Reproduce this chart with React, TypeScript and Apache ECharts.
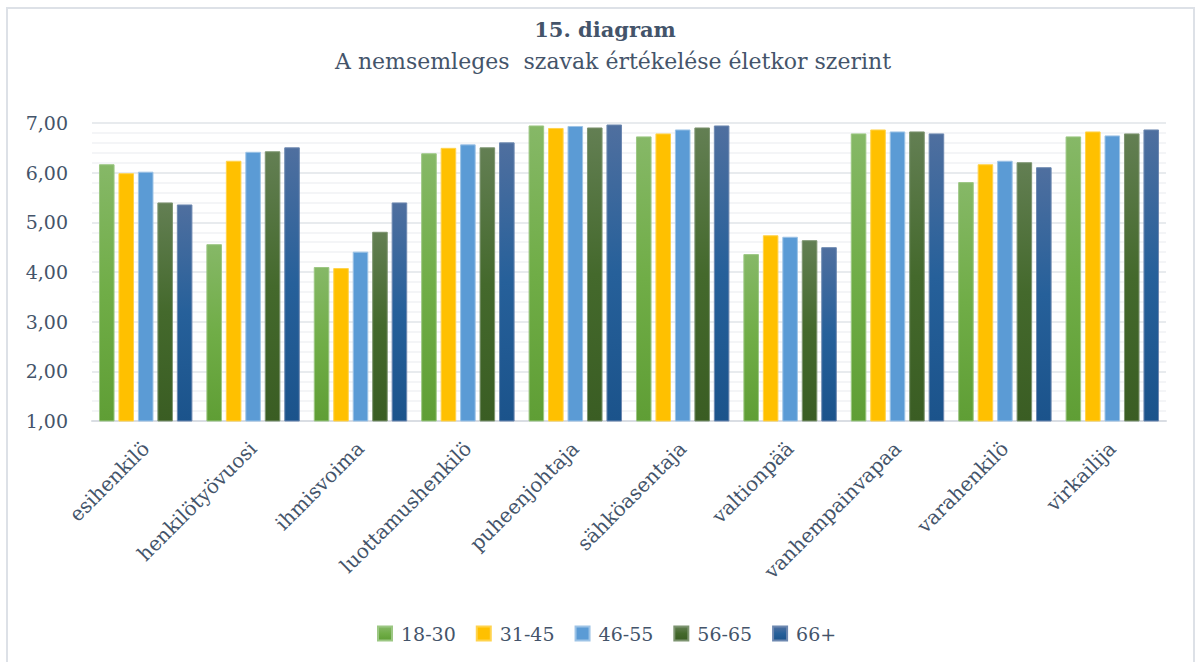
import React, { useEffect, useRef } from "react";
import * as echarts from "echarts";

const categories = [
  "esihenkilö",
  "henkilötyövuosi",
  "ihmisvoima",
  "luottamushenkilö",
  "puheenjohtaja",
  "sähköasentaja",
  "valtionpää",
  "vanhempainvapaa",
  "varahenkilö",
  "virkailija",
];
const seriesNames = ["18-30", "31-45", "46-55", "56-65", "66+"];
const age18_30 = [6.17, 4.56, 4.1, 6.39, 6.95, 6.73, 4.36, 6.79, 5.81, 6.73];
const age31_45 = [5.99, 6.24, 4.08, 6.5, 6.9, 6.79, 4.74, 6.87, 6.17, 6.83];
const age46_55 = [6.02, 6.42, 4.41, 6.57, 6.94, 6.87, 4.71, 6.83, 6.24, 6.75];
const age56_65 = [5.4, 6.43, 4.81, 6.51, 6.91, 6.91, 4.64, 6.83, 6.21, 6.79];
const age66 = [5.36, 6.51, 5.4, 6.61, 6.97, 6.95, 4.5, 6.79, 6.11, 6.87];
const seriesValues = [age18_30, age31_45, age46_55, age56_65, age66];

const FONT = "DejaVu Serif";
const TEXT = "#44546a";

const grad = (a: string, b: string, c: string) =>
  new echarts.graphic.LinearGradient(0, 0, 0, 1, [
    { offset: 0, color: a },
    { offset: 0.5, color: b },
    { offset: 1, color: c },
  ]);

export default function App() {
  const ref = useRef<HTMLDivElement>(null);
  useEffect(() => {
    if (!ref.current) return;
    const chart = echarts.init(ref.current, undefined, { renderer: "svg" });
    const fills = [
      grad("#86b867", "#70ad47", "#5f9e35"),
      "#ffc000",
      "#5b9bd5",
      grad("#637f53", "#44692c", "#3a5d23"),
      grad("#4f6f9f", "#26609a", "#1b538b"),
    ];
    const borders = ["#9cc783", "#ffd34d", "#9dc3e6", "#7d9470", "#6d88b0"];
    chart.setOption({
      animation: false,
      backgroundColor: "#ffffff",
      textStyle: { fontFamily: FONT, color: TEXT },
      title: [
        {
          text: "15. diagram",
          left: 600,
          textAlign: "center",
          top: 14,
          textStyle: { fontFamily: FONT, fontSize: 21, fontWeight: "bold", color: TEXT },
        },
        {
          text: "A nemsemleges  szavak értékelése életkor szerint",
          left: 608,
          textAlign: "center",
          top: 45,
          textStyle: { fontFamily: FONT, fontSize: 22, fontWeight: "normal", color: TEXT },
        },
      ],
      graphic: [
        {
          type: "rect",
          shape: { x: 7, y: 8, width: 1187, height: 670 },
          style: { fill: "none", stroke: "#dde1e7", lineWidth: 2 },
          silent: true,
        },
      ],
      legend: {
        data: seriesNames,
        left: 372,
        top: 619,
        itemWidth: 14,
        itemHeight: 14,
        itemGap: 20,
        icon: "rect",
        textStyle: { fontFamily: FONT, fontSize: 19, color: TEXT, padding: [0, 0, 0, 4] },
      },
      grid: { left: 92, right: 30, top: 123, bottom: 241, containLabel: false },
      xAxis: {
        type: "category",
        data: categories,
        axisLine: { lineStyle: { color: "#d9dde3", width: 2 } },
        axisTick: { show: false },
        axisLabel: {
          rotate: 45,
          margin: 24,
          fontFamily: FONT,
          fontSize: 20,
          color: TEXT,
          interval: 0,
        },
      },
      yAxis: {
        type: "value",
        min: 1,
        max: 7,
        interval: 1,
        axisLine: { show: false },
        axisTick: { show: false },
        axisLabel: {
          margin: 24,
          fontFamily: FONT,
          fontSize: 19,
          color: TEXT,
          formatter: (v: number) => v.toFixed(2).replace(".", ","),
        },
        splitLine: { lineStyle: { color: "#e1e4e9", width: 1.5 } },
        minorTick: { show: false, splitNumber: 5 },
        minorSplitLine: { show: true, lineStyle: { color: "#f0f2f4", width: 1.5 } },
      },
      series: seriesNames.map((name, i) => ({
        name,
        type: "bar",
        data: seriesValues[i],
        barGap: "25%",
        barCategoryGap: "13%",
        itemStyle: { color: fills[i], borderColor: borders[i], borderWidth: 1 },
      })),
    });
    return () => chart.dispose();
  }, []);
  return (
    <div
      ref={ref}
      style={{ position: "fixed", left: 0, top: 0, width: 1196, height: 662 }}
    />
  );
}
